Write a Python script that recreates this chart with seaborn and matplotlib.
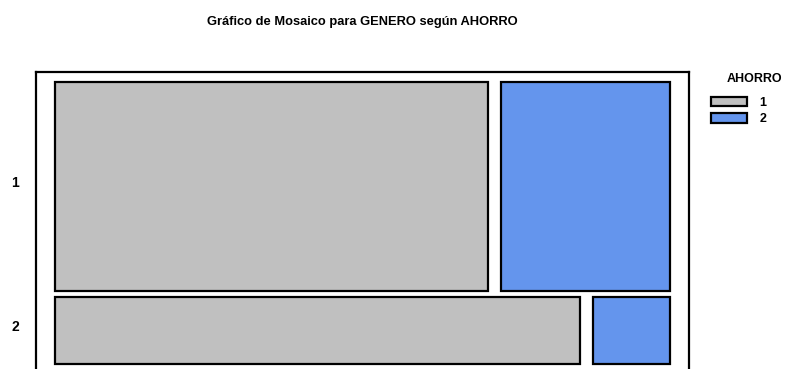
import matplotlib
matplotlib.use("Agg")
import matplotlib.pyplot as plt
import matplotlib.transforms as mtransforms
import seaborn as sns
import numpy as np

# Data (counts read approximately from tile proportions)
genero = ["1", "2"]
ahorro = ["1", "2"]
counts_ahorro1 = [105, 41]
counts_ahorro2 = [41, 6]
colors = ["#C0C0C0", "#6495ED"]
title = "Gráfico de Mosaico para GENERO según AHORRO"
legend_title = "AHORRO"

sns.set_style("white")
plt.rcParams["font.family"] = ["Liberation Sans", "DejaVu Sans"]
plt.rcParams["text.color"] = "black"
plt.rcParams["axes.labelcolor"] = "black"
plt.rcParams["ytick.color"] = "black"
plt.rcParams["xtick.color"] = "black"

W, H = 789, 369
fig = plt.figure(figsize=(W / 100, H / 100), dpi=100)
# axes frame = outer box (bottom edge runs off the canvas)
ax_l, ax_t, ax_w, ax_h = 36, 72, 653, 300
ax = fig.add_axes([ax_l / W, (H - ax_t - ax_h) / H, ax_w / W, ax_h / H])

# layout in axes units
padx, gapx = 19, 13
pad_top, pad_bot, gapy = 10, 8, 6
a1 = np.array(counts_ahorro1, float)
a2 = np.array(counts_ahorro2, float)
row_tot = a1 + a2
row_frac = row_tot / row_tot.sum()
avail_h = ax_h - pad_top - pad_bot - gapy * (len(genero) - 1)
heights = row_frac * avail_h
tops = pad_top + np.concatenate([[0], np.cumsum(heights[:-1] + gapy)])
centers = tops + heights / 2
avail_w = ax_w - 2 * padx - gapx
w1 = a1 / row_tot * avail_w
w2 = a2 / row_tot * avail_w

ax.barh(centers, w1, height=heights, left=padx, color=colors[0],
        edgecolor="black", linewidth=1.6, label=ahorro[0])
ax.barh(centers, w2, height=heights, left=padx + w1 + gapx, color=colors[1],
        edgecolor="black", linewidth=1.6, label=ahorro[1])

ax.set_xlim(0, ax_w)
ax.set_ylim(ax_h, 0)
ax.set_xticks([])
ax.set_yticks(centers)
ax.set_yticklabels(genero, fontsize=10, fontweight="bold", color="black")
ax.tick_params(axis="y", length=0, pad=12)
shift = mtransforms.ScaledTranslation(0, 5 / 100, fig.dpi_scale_trans)
for lbl in ax.get_yticklabels():
    lbl.set_transform(lbl.get_transform() + shift)
for s in ax.spines.values():
    s.set_linewidth(1.6)
    s.set_color("black")

ax.set_title(title, fontsize=9.3, fontweight="bold", pad=34, color="black")

leg = ax.legend(loc="upper left", bbox_to_anchor=(711 / W, 1 - 97 / H),
                bbox_transform=fig.transFigure, frameon=False, fontsize=9,
                handlelength=2.9, handleheight=0.75, labelspacing=0.35,
                handletextpad=1.0, borderpad=0, borderaxespad=0)
for t in leg.get_texts():
    t.set_fontweight("bold")
    t.set_color("black")
for p in leg.get_patches():
    p.set_linewidth(1.6)
fig.text(782 / W, 1 - 79 / H, legend_title, ha="right", va="center",
         fontsize=9, fontweight="bold", color="black")

fig.savefig("out.png", dpi=100)
